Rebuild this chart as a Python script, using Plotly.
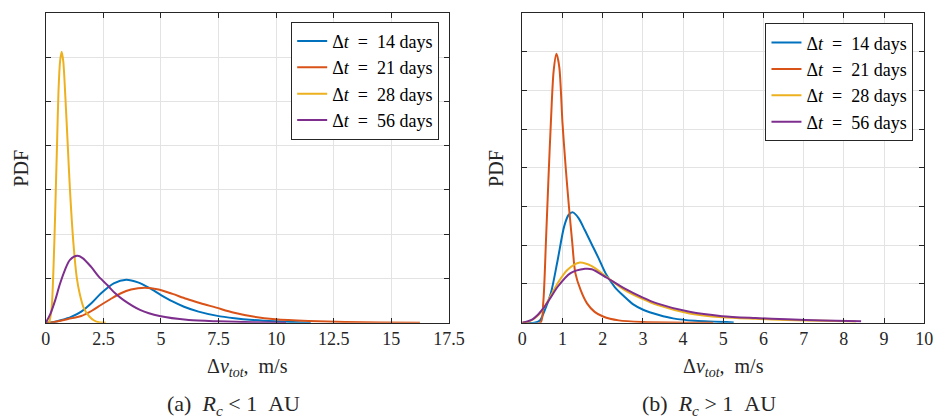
import plotly.graph_objects as go

# ---------------- data ----------------
LABELS = ["Δ<i>t</i>&nbsp;&nbsp;=&nbsp;&nbsp;14 days", "Δ<i>t</i>&nbsp;&nbsp;=&nbsp;&nbsp;21 days",
          "Δ<i>t</i>&nbsp;&nbsp;=&nbsp;&nbsp;28 days", "Δ<i>t</i>&nbsp;&nbsp;=&nbsp;&nbsp;56 days"]
COLORS = ["#0072BD", "#D95319", "#EDB120", "#7E2F8E"]

# Panel (a): R_c < 1 AU  (y in PDF units)
a14_x = [0, 0.3, 0.69, 1.1, 1.54, 2.0, 2.39, 2.95, 3.49, 4.0, 4.51, 5.0, 5.5, 6.0, 6.63, 7.4, 8.19, 9.0, 9.97, 11.5]
a14_y = [0, 0.002, 0.012, 0.026, 0.05, 0.09, 0.132, 0.178, 0.194, 0.182, 0.156, 0.125, 0.096, 0.072, 0.05, 0.032, 0.02, 0.012, 0.006, 0.0]
a21_x = [0, 0.2, 0.69, 1.1, 1.54, 2.0, 2.39, 2.8, 3.24, 3.7, 4.3, 4.9, 5.5, 6.1, 6.72, 7.4, 8.13, 9.0, 9.97, 11.4, 13.0, 14.5, 16.24]
a21_y = [0, 0.0, 0.01, 0.02, 0.03, 0.054, 0.08, 0.106, 0.132, 0.15, 0.158, 0.15, 0.13, 0.108, 0.088, 0.068, 0.046, 0.028, 0.016, 0.008, 0.003, 0.001, 0.0]
a28_x = [0.15, 0.25, 0.37, 0.45, 0.49, 0.55, 0.62, 0.69, 0.76, 0.85, 0.95, 1.05, 1.2, 1.35, 1.47, 1.65, 1.89, 2.1, 2.3, 2.6]
a28_y = [0, 0.06, 0.358, 0.66, 0.81, 1.04, 1.18, 1.224, 1.18, 1.02, 0.81, 0.6, 0.358, 0.2, 0.132, 0.066, 0.028, 0.01, 0.002, 0.0]
a56_x = [0, 0.2, 0.41, 0.6, 0.83, 1.05, 1.36, 1.6, 1.97, 2.3, 2.67, 3.0, 3.38, 4.09, 4.94, 6.21, 7.5, 9.0, 10.43]
a56_y = [0, 0.04, 0.102, 0.17, 0.238, 0.284, 0.302, 0.292, 0.252, 0.208, 0.17, 0.134, 0.102, 0.058, 0.03, 0.012, 0.006, 0.002, 0.0]

# Panel (b): R_c > 1 AU
b14_x = [0, 0.3, 0.43, 0.55, 0.71, 0.88, 1.04, 1.15, 1.26, 1.4, 1.55, 1.73, 1.9, 2.07, 2.3, 2.54, 2.75, 3.02, 3.4, 3.75, 4.3, 5.26]
b14_y = [0, 0, 0.012, 0.075, 0.19, 0.405, 0.62, 0.695, 0.712, 0.675, 0.6, 0.505, 0.415, 0.32, 0.23, 0.168, 0.12, 0.082, 0.05, 0.028, 0.012, 0.002]
b21_x = [0, 0.45, 0.52, 0.59, 0.65, 0.71, 0.78, 0.85, 0.92, 1.0, 1.08, 1.16, 1.24, 1.32, 1.45, 1.61, 1.8, 2.01, 2.4, 3.0, 4.75]
b21_y = [0, 0, 0.125, 0.535, 0.925, 1.288, 1.625, 1.735, 1.65, 1.288, 1.0, 0.75, 0.525, 0.32, 0.212, 0.125, 0.07, 0.04, 0.015, 0.005, 0.0]
b28_x = [0, 0.2, 0.4, 0.55, 0.7, 0.88, 1.12, 1.43, 1.73, 2.1, 2.54, 3.0, 3.35, 4.16, 4.97, 5.8, 6.59, 7.5, 8.3]
b28_y = [0, 0.012, 0.05, 0.102, 0.17, 0.255, 0.34, 0.388, 0.365, 0.295, 0.212, 0.152, 0.115, 0.06, 0.035, 0.025, 0.018, 0.012, 0.008]
b56_x = [0, 0.23, 0.4, 0.55, 0.7, 0.88, 1.2, 1.56, 1.73, 2.1, 2.54, 3.0, 3.35, 4.16, 4.97, 5.8, 6.59, 7.5, 8.43]
b56_y = [0, 0.018, 0.055, 0.102, 0.16, 0.232, 0.32, 0.348, 0.345, 0.29, 0.222, 0.162, 0.125, 0.07, 0.042, 0.03, 0.022, 0.015, 0.01]

panel_a = [(a14_x, a14_y), (a21_x, a21_y), (a28_x, a28_y), (a56_x, a56_y)]
panel_b = [(b14_x, b14_y), (b21_x, b21_y), (b28_x, b28_y), (b56_x, b56_y)]

XTICKS_A = [0, 2.5, 5, 7.5, 10, 12.5, 15, 17.5]
XTICKS_B = [0, 1, 2, 3, 4, 5, 6, 7, 8, 9, 10]

SERIF = "Liberation Serif, Times New Roman, serif"
AXC = "#262626"
GRID = "#e3e3e3"

fig = go.Figure()
for i, (xs, ys) in enumerate(panel_a):
    fig.add_trace(go.Scatter(x=xs, y=ys, mode="lines", name=LABELS[i],
                             line=dict(color=COLORS[i], width=2, shape="spline", smoothing=0.8),
                             xaxis="x", yaxis="y", legend="legend"))
for i, (xs, ys) in enumerate(panel_b):
    fig.add_trace(go.Scatter(x=xs, y=ys, mode="lines", name=LABELS[i],
                             line=dict(color=COLORS[i], width=2, shape="spline", smoothing=0.8),
                             xaxis="x2", yaxis="y2", legend="legend2"))

common_x = dict(showline=True, linecolor=AXC, linewidth=1, mirror="ticks", ticks="inside",
                ticklen=5, tickcolor=AXC, showgrid=True, gridcolor=GRID, zeroline=False,
                tickfont=dict(family=SERIF, size=18, color="#262626"))
common_y = dict(showline=True, linecolor=AXC, linewidth=1, mirror="ticks", ticks="inside",
                ticklen=5, tickcolor=AXC, showgrid=True, gridcolor=GRID, zeroline=False,
                showticklabels=False)

ydom = [1 - 322.7 / 419, 1 - 12.8 / 419]
fig.update_layout(
    width=950, height=419,
    margin=dict(l=0, r=0, t=0, b=0),
    paper_bgcolor="white", plot_bgcolor="white",
    xaxis=dict(domain=[41.7 / 950, 454 / 950], range=[0, 17.5], tickvals=XTICKS_A, anchor="y", **common_x),
    yaxis=dict(domain=ydom, range=[0, 1.4], dtick=0.2, anchor="x", **common_y),
    xaxis2=dict(domain=[529 / 950, 940 / 950], range=[0, 10], tickvals=XTICKS_B, anchor="y2", **common_x),
    yaxis2=dict(domain=ydom, range=[0, 2.0], dtick=0.25, anchor="x2", **common_y),
    legend=dict(x=444 / 950, y=1 - 21.7 / 419, xanchor="right", yanchor="top",
                bgcolor="white", bordercolor=AXC, borderwidth=1,
                font=dict(family=SERIF, size=18, color="black"), tracegroupgap=0),
    legend2=dict(x=929 / 950, y=1 - 23.3 / 419, xanchor="right", yanchor="top",
                 bgcolor="white", bordercolor=AXC, borderwidth=1,
                 font=dict(family=SERIF, size=18, color="black"), tracegroupgap=0),
    showlegend=True,
)

ann = []
def add_text(x, y, text, size, angle=0):
    ann.append(dict(x=x / 950, y=1 - y / 419, xref="paper", yref="paper", text=text,
                    showarrow=False, textangle=angle, xanchor="center", yanchor="middle",
                    font=dict(family=SERIF, size=size, color="#262626")))

XT = "Δ<i>v</i><sub><i>tot</i></sub>,&nbsp;&nbsp;m/s"
add_text(248, 367, XT, 20)
add_text(735, 367, XT, 20)
add_text(16, 168, "PDF", 20, -90)
add_text(502, 168, "PDF", 20, -90)
add_text(234, 405, "(a)&nbsp;&nbsp;<i>R<sub>c</sub></i>&nbsp;&lt;&nbsp;1&nbsp;&nbsp;AU", 22)
add_text(720, 405, "(b)&nbsp;&nbsp;<i>R<sub>c</sub></i>&nbsp;&gt;&nbsp;1&nbsp;&nbsp;AU", 22)
fig.update_layout(annotations=ann)

fig.write_html("out.html", config={"displayModeBar": False},
               post_script="document.body.style.margin='0';document.body.style.overflow='hidden';")
